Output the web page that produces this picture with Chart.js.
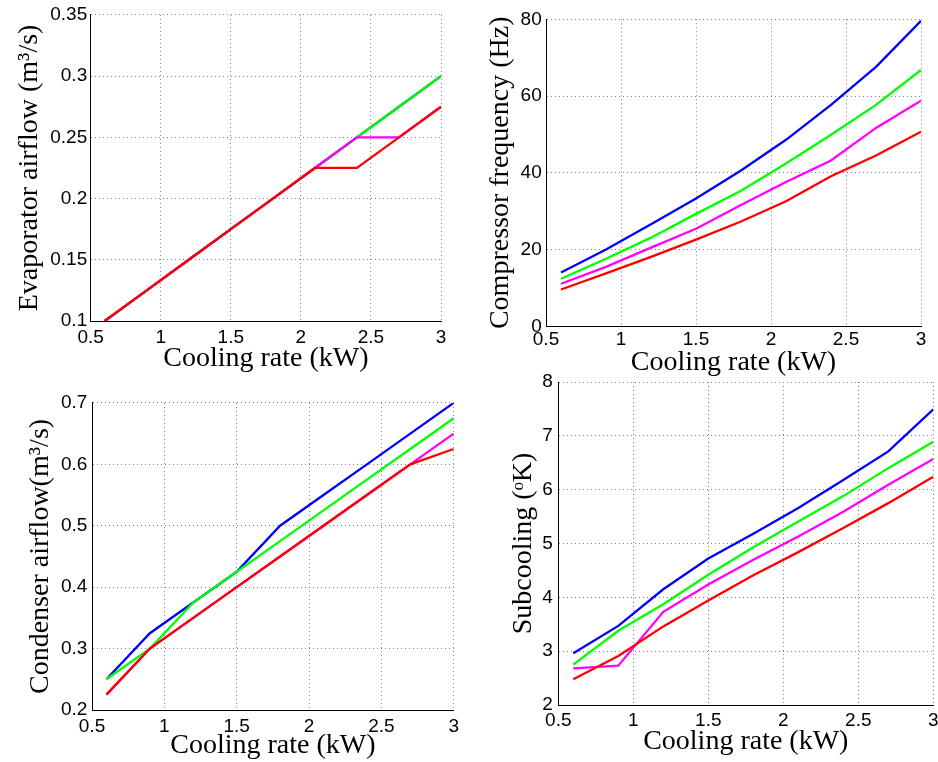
<!DOCTYPE html>
<html><head><meta charset="utf-8">
<script src="https://cdn.jsdelivr.net/npm/chart.js@4"></script>
<style>
html,body{margin:0;padding:0;background:#fff;overflow:hidden;width:938px;height:762px;position:relative;}
canvas{position:absolute;}
</style></head><body>
<canvas id="c1" width="470" height="380" style="left:0px;top:0px"></canvas>
<canvas id="c3" width="470" height="382" style="left:0px;top:380px"></canvas>
<canvas id="c4" width="478" height="397" style="left:470px;top:365px"></canvas>
<canvas id="c2" width="468" height="380" style="left:470px;top:0px"></canvas>
<script>
// ---- data ----
const coolingRate = [0.6, 0.9, 1.2, 1.5, 1.8, 2.1, 2.4, 2.7, 3.0];

const evapBlue    = [0.1, 0.125, 0.15, 0.175, 0.2, 0.225, 0.25, 0.275, 0.3];
const evapGreen   = [0.1, 0.125, 0.15, 0.175, 0.2, 0.225, 0.25, 0.275, 0.3];
const evapMagenta = [0.1, 0.125, 0.15, 0.175, 0.2, 0.225, 0.25, 0.25, 0.275];
const evapRed     = [0.1, 0.125, 0.15, 0.175, 0.2, 0.225, 0.225, 0.25, 0.275];

const compBlue    = [14.0, 20.0, 26.6, 33.3, 40.6, 48.6, 57.7, 67.6, 79.6];
const compGreen   = [12.4, 17.6, 23.1, 29.3, 35.3, 42.4, 49.9, 57.7, 66.8];
const compMagenta = [11.1, 15.5, 20.5, 25.4, 31.6, 37.6, 43.2, 51.7, 58.8];
const compRed     = [9.6, 13.8, 18.1, 22.6, 27.3, 32.6, 39.1, 44.5, 50.7];

const condBlue    = [0.25, 0.325, 0.375, 0.425, 0.5, 0.55, 0.6, 0.65, 0.7];
const condGreen   = [0.25, 0.3, 0.375, 0.425, 0.475, 0.525, 0.575, 0.625, 0.675];
const condMagenta = [0.225, 0.3, 0.35, 0.4, 0.45, 0.5, 0.55, 0.6, 0.65];
const condRed     = [0.225, 0.3, 0.35, 0.4, 0.45, 0.5, 0.55, 0.6, 0.625];

const subBlue     = [2.96, 3.47, 4.15, 4.72, 5.18, 5.66, 6.18, 6.71, 7.49];
const subGreen    = [2.75, 3.38, 3.87, 4.42, 4.93, 5.41, 5.88, 6.40, 6.89];
const subMagenta  = [2.68, 2.73, 3.73, 4.24, 4.70, 5.13, 5.59, 6.09, 6.57];
const subRed      = [2.48, 2.91, 3.46, 3.94, 4.41, 4.84, 5.29, 5.75, 6.24];

const xTicks = [0.5, 1, 1.5, 2, 2.5, 3];
const xTickLabels = ['0.5', '1', '1.5', '2', '2.5', '3'];
const evapTicks = [0.1, 0.15, 0.2, 0.25, 0.3, 0.35];
const evapTickLabels = ['0.1', '0.15', '0.2', '0.25', '0.3', '0.35'];
const compTicks = [0, 20, 40, 60, 80];
const compTickLabels = ['0', '20', '40', '60', '80'];
const condTicks = [0.2, 0.3, 0.4, 0.5, 0.6, 0.7];
const condTickLabels = ['0.2', '0.3', '0.4', '0.5', '0.6', '0.7'];
const subTicks = [2, 3, 4, 5, 6, 7, 8];
const subTickLabels = ['2', '3', '4', '5', '6', '7', '8'];

const xTitle = 'Cooling rate (kW)';

// ---- drawing ----
const COLORS = {blue: '#0000ff', green: '#00ff00', magenta: '#ff00ff', red: '#ff0000'};
const ORDER = {red: 0, magenta: 1, green: 2, blue: 3};

function panel(id, o) {
  const cv = document.getElementById(id);
  const W = cv.width, H = cv.height;
  const datasets = Object.keys(o.series).map(k => ({
    data: coolingRate.map((x, j) => ({x: x, y: o.series[k][j]})),
    borderColor: COLORS[k], borderWidth: 2.3, pointRadius: 0, fill: false,
    tension: 0, order: ORDER[k]
  }));
  new Chart(cv.getContext('2d'), {
    type: 'line',
    data: {datasets},
    options: {
      responsive: false, animation: false, events: [],
      plugins: {legend: {display: false}, tooltip: {enabled: false}},
      layout: {padding: {left: 0, top: o.top, right: W - o.right, bottom: 0}},
      scales: {
        x: {
          type: 'linear', min: 0.5, max: 3,
          afterFit: s => { s.height = H - o.bottom; },
          afterBuildTicks: s => { s.ticks = xTicks.map(v => ({value: v})); },
          ticks: {callback: (v, i) => xTickLabels[i], autoSkip: false, maxRotation: 0,
                  font: {family: 'Liberation Sans', size: 19}, color: '#000', padding: o.xtp},
          grid: {color: '#808080', lineWidth: 1, drawTicks: false},
          border: {display: true, color: '#000', width: 1, dash: [1, 3]},
          title: {display: true, text: xTitle, color: '#000',
                  font: {family: 'Liberation Serif', size: 28}, padding: o.xtitle}
        },
        y: {
          type: 'linear', min: o.ymin, max: o.ymax,
          afterFit: s => { s.width = o.left; },
          afterBuildTicks: s => { s.ticks = o.yTicks.map(v => ({value: v})); },
          ticks: {callback: (v, i) => o.yTickLabels[i], autoSkip: false,
                  font: {family: 'Liberation Sans', size: 19}, color: '#000', padding: o.ytp},
          grid: {color: '#808080', lineWidth: 1, drawTicks: false},
          border: {display: true, color: '#000', width: 1, dash: [1, 3]},
          title: {display: true, text: o.yTitle, color: '#000',
                  font: {family: 'Liberation Serif', size: 28}, padding: o.ytitle}
        }
      }
    }
  });
}

panel('c1', {left: 90.7, top: 14.7, right: 441, bottom: 321, ymin: 0.1, ymax: 0.35,
  yTicks: evapTicks, yTickLabels: evapTickLabels, yTitle: 'Evaporator airflow (m³/s)',
  xtp: 5, ytp: 3.5, xtitle: 5, ytitle: 13,
  series: {blue: evapBlue, green: evapGreen, magenta: evapMagenta, red: evapRed}});

panel('c2', {left: 76, top: 19.3, right: 451, bottom: 326.3, ymin: 0, ymax: 80,
  yTicks: compTicks, yTickLabels: compTickLabels, yTitle: 'Compressor frequency (Hz)',
  xtp: 2.5, ytp: 4.3, xtitle: 1, ytitle: 13.7,
  series: {blue: compBlue, green: compGreen, magenta: compMagenta, red: compRed}});

panel('c3', {left: 92, top: 22.9, right: 453.7, bottom: 330, ymin: 0.2, ymax: 0.7,
  yTicks: condTicks, yTickLabels: condTickLabels, yTitle: 'Condenser airflow(m³/s)',
  xtp: 5.5, ytp: 4.7, xtitle: 0, ytitle: 24,
  series: {blue: condBlue, green: condGreen, magenta: condMagenta, red: condRed}});

panel('c4', {left: 88.3, top: 15.7, right: 463.3, bottom: 340, ymin: 2, ymax: 8,
  yTicks: subTicks, yTickLabels: subTickLabels, yTitle: 'Subcooling (ᵒK)',
  xtp: 4, ytp: 5.6, xtitle: 4, ytitle: 37,
  series: {blue: subBlue, green: subGreen, magenta: subMagenta, red: subRed}});
</script>
</body></html>
